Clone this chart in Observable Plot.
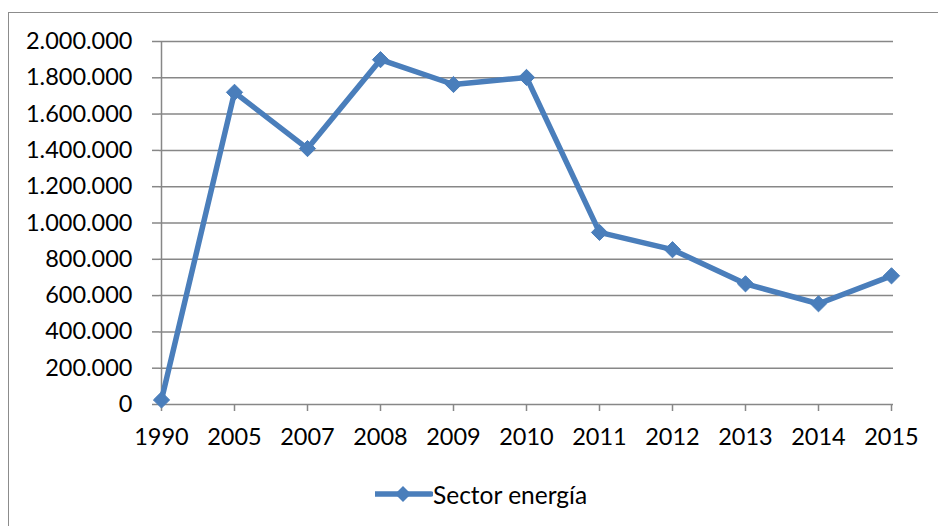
<!DOCTYPE html>
<html>
<head>
<meta charset="utf-8">
<script src="https://cdn.jsdelivr.net/npm/d3@7"></script>
<script src="https://cdn.jsdelivr.net/npm/@observablehq/plot@0.6"></script>
<style>
  html, body { margin: 0; padding: 0; background: #fff; overflow: hidden; }
  #wrap { position: relative; width: 938px; height: 526px; font-family: Lato, "Open Sans", sans-serif; }
  #frame { position: absolute; left: 8px; top: 12px; width: 1000px; height: 600px; border: 1.5px solid #8c8c8c; box-sizing: border-box; }
  #chart { position: absolute; left: 0; top: 0; }
  #legend { position: absolute; left: 375px; top: 480px; height: 28px; display: flex; align-items: center; font-size: 24.5px; color: #000; }
</style>
</head>
<body>
<div id="wrap">
  <div id="frame"></div>
  <div id="chart"></div>
  <div id="legend"></div>
</div>
<script>
const years = ["1990","2005","2007","2008","2009","2010","2011","2012","2013","2014","2015"];
const sectorEnergia = [25000, 1720000, 1410000, 1900000, 1763000, 1802000, 948000, 853000, 665000, 555000, 709000];
const yTicks = [0, 200000, 400000, 600000, 800000, 1000000, 1200000, 1400000, 1600000, 1800000, 2000000];
const seriesName = "Sector energía";

const color = "#4a7ebb";
const grid = "#878787";
const data = years.map((y, i) => ({year: y, value: sectorEnergia[i]}));
const fmt = d3.formatLocale({decimal: ",", thousands: ".", grouping: [3], currency: ["", ""]}).format(",.0f");

const chart = Plot.plot({
  width: 938,
  height: 526,
  marginLeft: 159,
  marginRight: 45,
  marginTop: 41,
  marginBottom: 122,
  style: {fontFamily: "Lato, 'Open Sans', sans-serif", fontSize: "23.5px", color: "#000", background: "transparent", overflow: "visible"},
  x: {type: "point", domain: years, padding: 0},
  y: {domain: [0, 2000000]},
  marks: [
    Plot.gridY(yTicks, {stroke: grid, strokeOpacity: 1, strokeWidth: 1.5}),
    Plot.ruleX([years[0]], {y1: 0, y2: 2000000, stroke: grid, strokeWidth: 1.5}),
    Plot.axisY(yTicks, {tickFormat: fmt, tickSize: 7, tickPadding: 20, stroke: grid, strokeWidth: 1.5, label: null, fill: "#000"}),
    Plot.axisX(years, {tickSize: 7, tickPadding: 17, stroke: grid, strokeWidth: 1.5, label: null, fill: "#000"}),
    Plot.line(data, {x: "year", y: "value", stroke: color, strokeWidth: 5.5, strokeLinejoin: "round"}),
    Plot.dot(data, {x: "year", y: "value", symbol: "diamond2", r: 7.3, fill: color, stroke: color, strokeWidth: 1})
  ]
});
document.getElementById("chart").appendChild(chart);

// legend
const leg = d3.select("#legend");
const sw = leg.append("svg").attr("width", 58).attr("height", 28);
sw.append("line").attr("x1", 1).attr("x2", 56).attr("y1", 14).attr("y2", 14)
  .attr("stroke", color).attr("stroke-width", 5.5).attr("stroke-linecap", "round");
sw.append("path").attr("d", "M28,6L36,14L28,22L20,14Z").attr("fill", color);
leg.append("span").text(seriesName).style("margin-left", "0px");
</script>
</body>
</html>
